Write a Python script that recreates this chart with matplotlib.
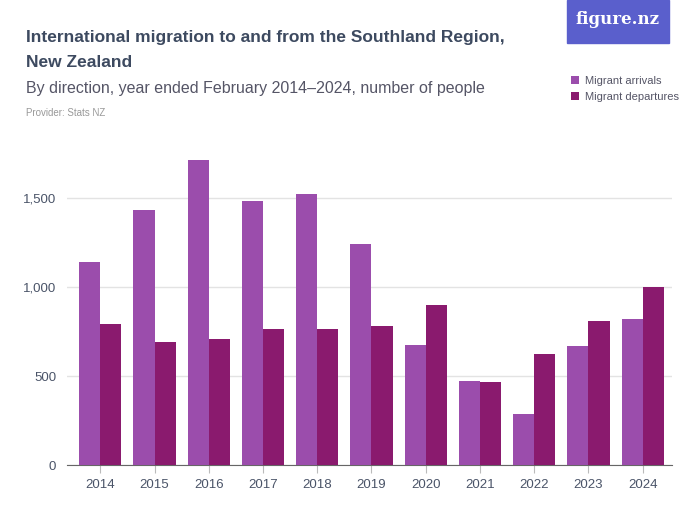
import numpy as np
import matplotlib.pyplot as plt
from matplotlib.patches import Rectangle

# data
years = ['2014', '2015', '2016', '2017', '2018', '2019', '2020', '2021', '2022', '2023', '2024']
arrivals = [1140, 1433, 1713, 1483, 1522, 1241, 674, 472, 286, 668, 820]
departures = [792, 691, 708, 764, 764, 781, 899, 466, 624, 809, 1000]

c_arr = '#9b4dac'
c_dep = '#8a1a6e'
txt = '#4a5468'

plt.rcParams['font.family'] = ['Liberation Sans', 'DejaVu Sans']

fig = plt.figure(figsize=(7, 5.25), dpi=100)
ax = fig.add_axes([0.096, 0.114, 0.864, 0.61])

x = np.arange(len(years))
w = 0.39
ax.bar(x - w/2, arrivals, w, color=c_arr, label='Migrant arrivals', zorder=3)
ax.bar(x + w/2, departures, w, color=c_dep, label='Migrant departures', zorder=3)

ax.set_xlim(-0.61, len(years) - 1 + 0.54)
ax.set_ylim(0, 1800)
ax.set_yticks([0, 500, 1000, 1500])
ax.set_yticklabels(['0', '500', '1,000', '1,500'])
ax.set_xticks(x)
ax.set_xticklabels(years)
ax.grid(axis='y', color='#e3e3e3', linewidth=1, zorder=0)
for s in ['top', 'right', 'left']:
    ax.spines[s].set_visible(False)
ax.spines['bottom'].set_color('#666666')
ax.tick_params(axis='y', length=0, labelsize=9.5, labelcolor=txt, pad=8)
ax.tick_params(axis='x', length=6, color='#bbbbbb', labelsize=9.5, labelcolor=txt, pad=4)

fig.text(0.037, 0.929, 'International migration to and from the Southland Region,',
         fontsize=12.5, color='#3d4a60', weight='bold', va='center')
fig.text(0.037, 0.881, 'New Zealand', fontsize=12.5, color='#3d4a60', weight='bold', va='center')
fig.text(0.037, 0.832, 'By direction, year ended February 2014\u20132024, number of people',
         fontsize=11.5, color='#555566', va='center')
fig.text(0.037, 0.784, 'Provider: Stats NZ', fontsize=7, color='#999999', va='center')

# logo
fig.patches.append(Rectangle((0.81, 0.919), 0.145, 0.081, transform=fig.transFigure,
                             color='#5a5fcc', zorder=1))
fig.text(0.882, 0.962, 'figure.nz', fontsize=12, color='white', ha='center', va='center',
         family='DejaVu Serif', weight='bold')

leg = fig.legend(loc='upper left', bbox_to_anchor=(0.802, 0.875), frameon=False,
                 fontsize=8, handlelength=0.7, handleheight=0.7, handletextpad=0.5,
                 labelspacing=0.55, labelcolor='#555566')

plt.savefig('out.png', dpi=100)
